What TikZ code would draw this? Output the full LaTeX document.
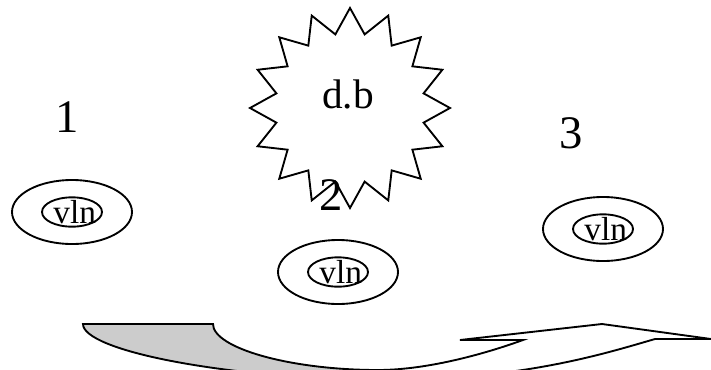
\documentclass[tikz,border=0pt]{standalone}
\usepackage{fontspec}
\setmainfont{Liberation Serif}
\usetikzlibrary{shapes.geometric}

\begin{document}
\begin{tikzpicture}[
  x=0.75pt, y=-0.75pt,
  ring/.style={ellipse, draw, line width=1.4pt, minimum width=90pt, minimum height=48pt, inner sep=0pt},
  core/.style={ellipse, draw, line width=1.4pt, minimum width=45pt, minimum height=22pt, inner sep=0pt},
  vtext/.style={inner sep=0pt, font=\fontsize{25}{27}\selectfont},
  num/.style={inner sep=0pt, font=\fontsize{35}{38}\selectfont},
  burst/.style={star, star points=16, star point ratio=1.333, draw, line width=1.4pt, minimum size=150pt, inner sep=0pt},
  band/.style={draw, line width=1.4pt, line join=miter}
]
\useasboundingbox (0,0) rectangle (711,369);
\clip (0,0) rectangle (711,369);

% the burst with its label
\node[burst] (db) at (350,108) {};
\node[inner sep=0pt, font=\fontsize{31}{34}\selectfont] (dblabel) at (348,94) {d.b};

% numbers
\node[num] (n1) at (67,117) {1};
\node[num] (n2) at (331,195) {2};
\node[num] (n3) at (571,133) {3};

% nested ellipses
\node[ring] (r1) at (72,212) {};
\node[core] (c1) at (r1.center) {};
\node[vtext] (v1) at ([xshift=2pt]c1.center) {vln};
\node[ring] (r2) at (338,272) {};
\node[core] (c2) at (r2.center) {};
\node[vtext] (v2) at ([xshift=2pt]c2.center) {vln};
\node[ring] (r3) at (603,229) {};
\node[core] (c3) at (r3.center) {};
\node[vtext] (v3) at ([xshift=2pt]c3.center) {vln};

% curved arrow at the bottom
\coordinate (tl) at (83,324);
\coordinate (tr) at (213,324);
\coordinate (notch) at (523,340);
\coordinate (hl) at (460,340);
\coordinate (tip) at (602,324);
\coordinate (hr) at (711,339);
\coordinate (rnotch) at (655,339);
\fill[black!20] (tl) -- (tr) .. controls (213,348) and (290,370) .. (378,370)
  -- (380,380) .. controls (220,378) and (83,350) .. (tl) -- cycle;
\draw[band] (tl) -- (tr) .. controls (213,348) and (290,370) .. (378,370)
  .. controls (430,370) and (490,352) .. (notch) -- (hl) -- (tip) -- (hr) -- (rnotch)
  .. controls (600,355) and (520,380) .. (380,380)
  .. controls (220,378) and (83,350) .. (tl) -- cycle;
\end{tikzpicture}
\end{document}
